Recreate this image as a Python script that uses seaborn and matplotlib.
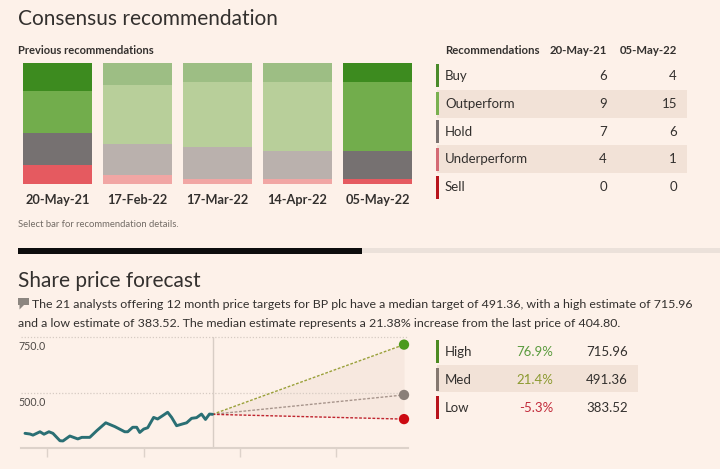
import numpy as np
import pandas as pd
import seaborn as sns
import matplotlib.pyplot as plt
from matplotlib.patches import Rectangle, Polygon
from matplotlib import colors as mcolors

# ## data

# previous recommendations (analyst counts per rating)
dates = ["20-May-21", "17-Feb-22", "17-Mar-22", "14-Apr-22", "05-May-22"]
ratings = ["Buy", "Outperform", "Hold", "Underperform", "Sell"]
buy = [6, 5, 4, 4, 4]
outperform = [9, 13, 14, 15, 15]
hold = [7, 7, 7, 6, 6]
underperform = [4, 2, 1, 1, 1]
sell = [0, 0, 0, 0, 0]
highlighted = ["20-May-21", "05-May-22"]   # bars drawn at full colour

# share price, months since 20-May-21
price_months = [0, 0.31, 0.5, 0.94, 1.19, 1.5, 1.75, 2.19, 2.38, 2.81, 3.31, 3.56,
                4.06, 4.5, 5.06, 5.63, 6.25, 6.44, 6.75, 7.0, 7.19, 7.44, 7.69,
                8.06, 8.31, 8.63, 8.94, 9.19, 9.5, 9.88, 10.13, 10.44, 10.75,
                11.06, 11.31, 11.56, 11.75]
price_values = [320, 317, 312, 327, 316, 327, 320, 287, 286, 308, 295, 302,
                302, 332, 367, 350, 327, 327, 347, 347, 324, 339, 345,
                391, 384, 399, 414, 391, 354, 362, 367, 387, 390,
                406, 382, 406, 404.8]
axis_ticks = [1.4, 7.45, 13.45, 19.5]      # Jul-21, Jan-22, Jul-22, Jan-23
y_ticks = [500.0, 750.0]

last_price = 404.80
forecast_labels = ["High", "Med", "Low"]
forecast_values = [715.96, 491.36, 383.52]
forecast_horizon = 12      # months
n_analysts = 21
company = "BP plc"

# ## styling

BG = "#fdf1e9"
INK = "#33302e"
SHADE = "#f2e2d7"
rating_colors = ["#3d8b1f", "#72ad4c", "#767171", "#e55a60", "#b1121c"]
rating_marks = ["#4a8a2a", "#7ab050", "#7a7270", "#d46a74", "#b8141c"]
fc_line = ["#9aa03a", "#a8958c", "#c0252f"]
fc_dot = ["#4c9a1e", "#8a7f78", "#cc0a12"]
fc_mark = ["#4c8a22", "#857870", "#b8131c"]
fc_pct = ["#5a9b3e", "#8c9a30", "#c22a3a"]


def fade(c, k=0.5):
    rgb = np.array(mcolors.to_rgb(c))
    return mcolors.to_hex(rgb * k + np.array(mcolors.to_rgb(BG)) * (1 - k))


sns.set_theme(style="white", rc={"figure.facecolor": BG, "axes.facecolor": "none"})
plt.rcParams["font.family"] = ["Lato", "DejaVu Sans"]

W, H = 720, 469
fig = plt.figure(figsize=(W / 100, H / 100), dpi=100)


def px_axes(x0, y0, x1, y1):
    return fig.add_axes([x0 / W, 1 - y1 / H, (x1 - x0) / W, (y1 - y0) / H])


# overlay in pixel coordinates for texts and tables
ov = px_axes(0, 0, W, H)
ov.set_xlim(0, W)
ov.set_ylim(H, 0)
ov.axis("off")

# ## stacked recommendation bars
rec_df = pd.DataFrame({"date": dates, "Buy": buy, "Outperform": outperform,
                       "Hold": hold, "Underperform": underperform, "Sell": sell})
shares = rec_df[ratings].div(rec_df[ratings].sum(axis=1), axis=0)

ax_b = px_axes(17.5, 63, 417.5, 184)
for i, r in enumerate(ratings):
    top = shares[ratings[i:]].sum(axis=1)
    pal = [rating_colors[i] if d in highlighted else fade(rating_colors[i]) for d in dates]
    sns.barplot(x=rec_df["date"], y=top, hue=rec_df["date"], palette=pal, legend=False,
                width=0.8625, saturation=1, errorbar=None, linewidth=0, ax=ax_b)
ax_b.set_ylim(0, 1)
ax_b.set_xlim(-0.5, len(dates) - 0.5)
ax_b.set_xlabel("")
ax_b.set_ylabel("")
ax_b.set_yticks([])
ax_b.tick_params(axis="x", length=0, pad=7, labelsize=9.2, labelcolor=INK)
for lab in ax_b.get_xticklabels():
    lab.set_fontweight("bold")
sns.despine(ax=ax_b, left=True, bottom=True)

ov.text(18, 25, "Consensus recommendation", fontsize=15, color=INK, va="baseline")
ov.text(18, 54, "Previous recommendations", fontsize=8, fontweight="bold", color=INK, va="baseline")
ov.text(18, 227, "Select bar for recommendation details.", fontsize=6.8, color="#736c66", va="baseline")

# ## recommendation table
ov.text(445, 54, "Recommendations", fontsize=8.2, fontweight="bold", color=INK, va="baseline")
ov.text(607, 54, dates[0], fontsize=8.2, fontweight="bold", color=INK, va="baseline", ha="right")
ov.text(677, 54, dates[-1], fontsize=8.2, fontweight="bold", color=INK, va="baseline", ha="right")
first = rec_df[ratings].iloc[0].tolist()
latest = rec_df[ratings].iloc[-1].tolist()
for i, r in enumerate(ratings):
    yc = 76 + i * 27.8
    if i % 2 == 1:
        ov.add_patch(Rectangle((437, yc - 14), 250, 28, color=SHADE, lw=0))
    ov.add_patch(Rectangle((436, yc - 11.5), 3, 23, color=rating_marks[i], lw=0))
    ov.text(445, yc, r, fontsize=9.5, color=INK, va="center")
    ov.text(607, yc, str(first[i]), fontsize=9.5, color=INK, va="center", ha="right")
    ov.text(677, yc, str(latest[i]), fontsize=9.5, color=INK, va="center", ha="right")

# ## section divider
ov.add_patch(Rectangle((18, 248), 344, 6, color="#0d0d0d", lw=0))
ov.add_patch(Rectangle((362, 248.5), 358, 5, color="#ebe1da", lw=0))

ov.text(18, 287, "Share price forecast", fontsize=15, color=INK, va="baseline")
ov.add_patch(Rectangle((18, 298), 10.5, 7.5, color="#8c8680", lw=0))
ov.add_patch(Polygon([(19.5, 305), (19.5, 309.5), (24, 305)], color="#8c8680", lw=0))

changes = [(v / last_price - 1) * 100 for v in forecast_values]
line1 = (f"The {n_analysts} analysts offering {forecast_horizon} month price targets for {company} "
         f"have a median target of {forecast_values[1]:.2f}, with a high estimate of {forecast_values[0]:.2f}")
line2 = (f"and a low estimate of {forecast_values[2]:.2f}. The median estimate represents a "
         f"{changes[1]:.2f}% increase from the last price of {last_price:.2f}.")
ov.text(32, 308, line1, fontsize=8.9, color=INK, va="baseline")
ov.text(18, 327, line2, fontsize=8.9, color=INK, va="baseline")

# ## share price chart
now = price_months[-1]
end = now + forecast_horizon
ax_p = px_axes(21, 337, 408, 448)
ax_p.set_xlim(-0.25, 24.0)
ax_p.set_ylim(254.5, 750)

ax_p.fill_between([now, end], [last_price, forecast_values[2]], [last_price, forecast_values[0]],
                  color="#f7e8df", lw=0, zorder=0)
for v in y_ticks:
    ax_p.axhline(v, color="#d6cbc3", lw=0.9, ls=(0, (1, 1.5)), clip_on=False, zorder=1)
    ax_p.annotate(f"{v:.1f}", xy=(0, v), xycoords=ax_p.get_yaxis_transform(),
                  xytext=(-3, -4), textcoords="offset pixels", va="top", ha="left",
                  fontsize=7.7, color="#4d4845", annotation_clip=False)
ax_p.axvline(now, color="#d8cdc5", lw=1, zorder=1)

sns.lineplot(x=price_months, y=price_values, color="#2a6f74", lw=2.1, ax=ax_p, zorder=3)
for v, c in zip(forecast_values, fc_line):
    ax_p.plot([now, end], [last_price, v], color=c, lw=1, ls=(0, (2, 1.2)), zorder=2)
sns.scatterplot(x=[end] * 3, y=forecast_values, hue=forecast_labels, palette=fc_dot,
                s=55, edgecolor="none", legend=False, ax=ax_p, zorder=4, clip_on=False)

ax_p.set_xticks(axis_ticks)
ax_p.set_xticklabels([])
ax_p.set_yticks([])
ax_p.tick_params(axis="x", bottom=True, direction="out", length=6.5, width=1, color="#ddd2ca")
sns.despine(ax=ax_p, left=True)
ax_p.spines["bottom"].set_color("#ddd2ca")
ax_p.spines["bottom"].set_linewidth(1.5)

# ## forecast table
for i, lab in enumerate(forecast_labels):
    yc = 351.5 + i * 28
    if i == 1:
        ov.add_patch(Rectangle((437, yc - 14), 201, 27, color=SHADE, lw=0))
    ov.add_patch(Rectangle((436, yc - 11.5), 3, 23, color=fc_mark[i], lw=0))
    ov.text(445, yc, lab, fontsize=9.5, color=INK, va="center")
    ov.text(553, yc, f"{changes[i]:.1f}%", fontsize=9.5, color=fc_pct[i], va="center", ha="right")
    ov.text(628, yc, f"{forecast_values[i]:.2f}", fontsize=9.5, color=INK, va="center", ha="right")

fig.savefig("out.png", dpi=100, facecolor=BG)
print("done")
